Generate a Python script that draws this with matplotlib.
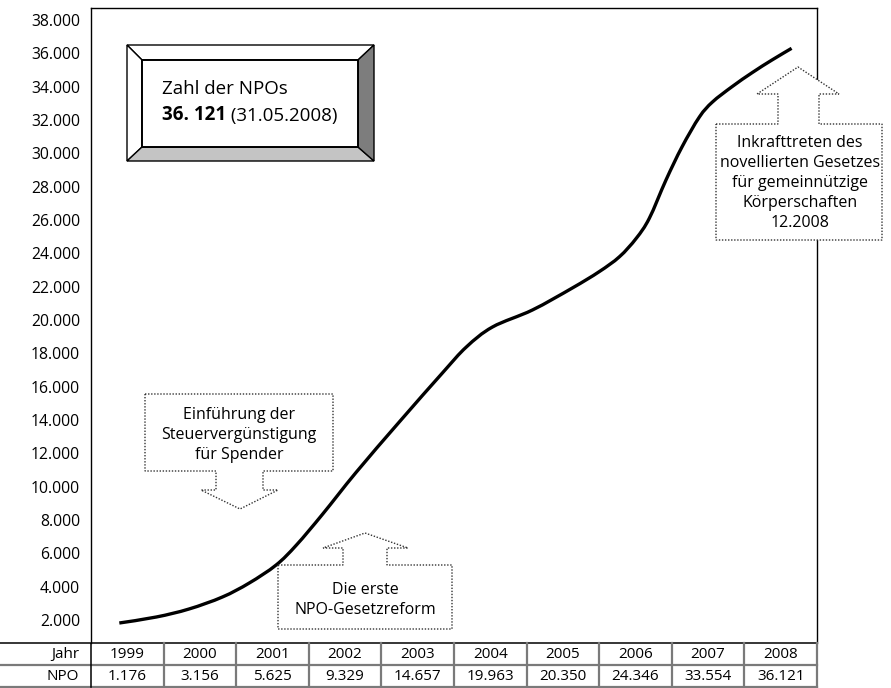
import matplotlib.pyplot as plt
from matplotlib.patches import Polygon, PathPatch
from matplotlib.path import Path
from matplotlib.text import Annotation

plt.rcParams['font.family'] = ['Open Sans', 'DejaVu Sans']

# table data
years = [1999, 2000, 2001, 2002, 2003, 2004, 2005, 2006, 2007, 2008]
npo = [1176, 3156, 5625, 9329, 14657, 19963, 20350, 24346, 33554, 36121]

# the drawn curve (it is a smoothed sketch)
curve_year = [1998.89, 1999.40, 1999.85, 2000.31, 2000.68, 2001.05, 2001.33,
              2001.69, 2002.15, 2002.75, 2003.34, 2003.67, 2004.03,
              2004.58, 2005.13, 2005.50, 2005.78, 2006.01, 2006.19, 2006.42,
              2006.64, 2006.88, 2007.06, 2007.33, 2007.61, 2007.88, 2008.15]
curve_npo = [1820, 2180, 2660, 3380, 4220, 5300, 6500, 8350, 10850, 13900,
             16820, 18380, 19580, 20600, 21920, 22900, 23800, 24900,
             26100, 28400, 30380, 32180, 33080, 34000, 34850, 35600, 36300]

yticks = list(range(2000, 38001, 2000))


def de(v):
    return f"{v:,}".replace(",", ".")


W, H = 891, 688


def px(x, y):
    return (x / W, 1 - y / H)


fig = plt.figure(figsize=(W / 100, H / 100), dpi=100)

ax = fig.add_axes([91 / W, 1 - 643 / H, (817 - 91) / W, (643 - 8) / H])

# smooth curve: bezier segments through the read points (catmull-rom)
pts = list(zip(curve_year, curve_npo))
ext = [pts[0]] + pts + [pts[-1]]
verts = [pts[0]]
codes = [Path.MOVETO]
for i in range(1, len(ext) - 2):
    p0, p1, p2, p3 = ext[i - 1], ext[i], ext[i + 1], ext[i + 2]
    c1 = (p1[0] + (p2[0] - p0[0]) / 6, p1[1] + (p2[1] - p0[1]) / 6)
    c2 = (p2[0] - (p3[0] - p1[0]) / 6, p2[1] - (p3[1] - p1[1]) / 6)
    verts += [c1, c2, p2]
    codes += [Path.CURVE4] * 3
ax.add_patch(PathPatch(Path(verts, codes), fc='none', ec='black', lw=2.4,
                       capstyle='butt'))

ax.set_xlim(1998.5, 2008.5)
ax.set_ylim(620, 38720)
ax.set_yticks(yticks)
ax.set_yticklabels([de(v) for v in yticks], fontsize=11.3)
ax.tick_params(axis='y', length=0, pad=8)
ax.set_xticks([])
for s in ['top', 'left', 'right']:
    ax.spines[s].set_linewidth(1.0)
ax.spines['bottom'].set_visible(False)

# table under the chart
tab = fig.add_axes([0, 0, 817 / W, 45 / H])
x0 = 1998.5 - 91 / 72.6
tab.set_xlim(x0, 2008.5)
tab.set_ylim(2.04, 0)
tab.axis('off')
gray = '#7a7a7a'
tab.plot([x0, 2008.5], [0, 0], color='black', lw=1.1, clip_on=False)
tab.plot([x0, 2008.5], [1, 1], color=gray, lw=1.6, clip_on=False)
tab.plot([x0, 2008.5], [2, 2], color=gray, lw=1.6, clip_on=False)
tab.plot([1998.5, 1998.5], [0, 2], color='black', lw=1.1)
for yr in years:
    tab.plot([yr + 0.5, yr + 0.5], [0, 2], color=gray, lw=1.6, clip_on=False)
tab.text(1998.5 - 12 / 72.6, 0.5, 'Jahr', ha='right', va='center', fontsize=11)
tab.text(1998.5 - 12 / 72.6, 1.5, 'NPO', ha='right', va='center', fontsize=11)
for yr, v in zip(years, npo):
    tab.text(yr, 0.5, str(yr), ha='center', va='center', fontsize=11)
    tab.text(yr, 1.5, de(v), ha='center', va='center', fontsize=11)

# bevelled box
ox0, oy0, ox1, oy1 = 127, 45, 374, 161
ix0, iy0, ix1, iy1 = 142, 60, 358, 147
bevels = [
    ([(ox0, oy0), (ox1, oy0), (ix1, iy0), (ix0, iy0)], 'white'),
    ([(ox0, oy0), (ix0, iy0), (ix0, iy1), (ox0, oy1)], 'white'),
    ([(ox0, oy1), (ix0, iy1), (ix1, iy1), (ox1, oy1)], '#c4c4c4'),
    ([(ox1, oy0), (ox1, oy1), (ix1, iy1), (ix1, iy0)], '#7d7d7d'),
]
for pts_, fc in bevels:
    fig.add_artist(Polygon([px(*p) for p in pts_], closed=True, fc=fc, ec='black',
                           lw=1.0, transform=fig.transFigure, zorder=3))
fig.add_artist(Polygon([px(ix0, iy0), px(ix1, iy0), px(ix1, iy1), px(ix0, iy1)],
                       closed=True, fc='white', ec='black', lw=1.4,
                       transform=fig.transFigure, zorder=3))
fig.text(*px(162, 89), 'Zahl der NPOs', fontsize=13.5, va='center', zorder=4)
bold = fig.text(*px(162, 115), '36. 121', fontsize=13.5, fontweight='bold',
                va='center', zorder=4)
fig.add_artist(Annotation(' (31.05.2008)', xy=(1, 0), xycoords=bold,
                          fontsize=13.5, va='bottom', ha='left', zorder=4))


def callout(pts):
    fig.add_artist(Polygon([px(*p) for p in pts], closed=True, fc='white',
                           ec='#333333', lw=1.0, ls=(0, (1, 1.2)),
                           transform=fig.transFigure, zorder=3))


# down arrow callout
callout([(145, 394), (333, 394), (333, 471), (263, 471), (263, 490), (278, 490),
         (240, 509), (201, 490), (216, 490), (216, 471), (145, 471)])
for i, line in enumerate(['Einführung der', 'Steuervergünstigung', 'für Spender']):
    fig.text(*px(239, 415 + 20 * i), line, fontsize=11.5, ha='center',
             va='center', zorder=4)

# up arrow callout (first reform)
callout([(278, 565), (343, 565), (343, 548), (323, 548), (365, 533), (408, 548),
         (387, 548), (387, 565), (452, 565), (452, 629), (278, 629)])
for i, line in enumerate(['Die erste', 'NPO-Gesetzreform']):
    fig.text(*px(365, 590 + 20 * i), line, fontsize=11.5, ha='center',
             va='center', zorder=4)

# up arrow callout (new law)
callout([(716, 124), (778, 124), (778, 94), (757, 94), (798, 67), (839, 94),
         (819, 94), (819, 124), (882, 124), (882, 240), (716, 240)])
for i, line in enumerate(['Inkrafttreten des', 'novellierten Gesetzes',
                          'für gemeinnützige', 'Körperschaften', '12.2008']):
    fig.text(*px(800, 143 + 20 * i), line, fontsize=11.5, ha='center',
             va='center', zorder=4)

fig.savefig('out.png', dpi=100)
